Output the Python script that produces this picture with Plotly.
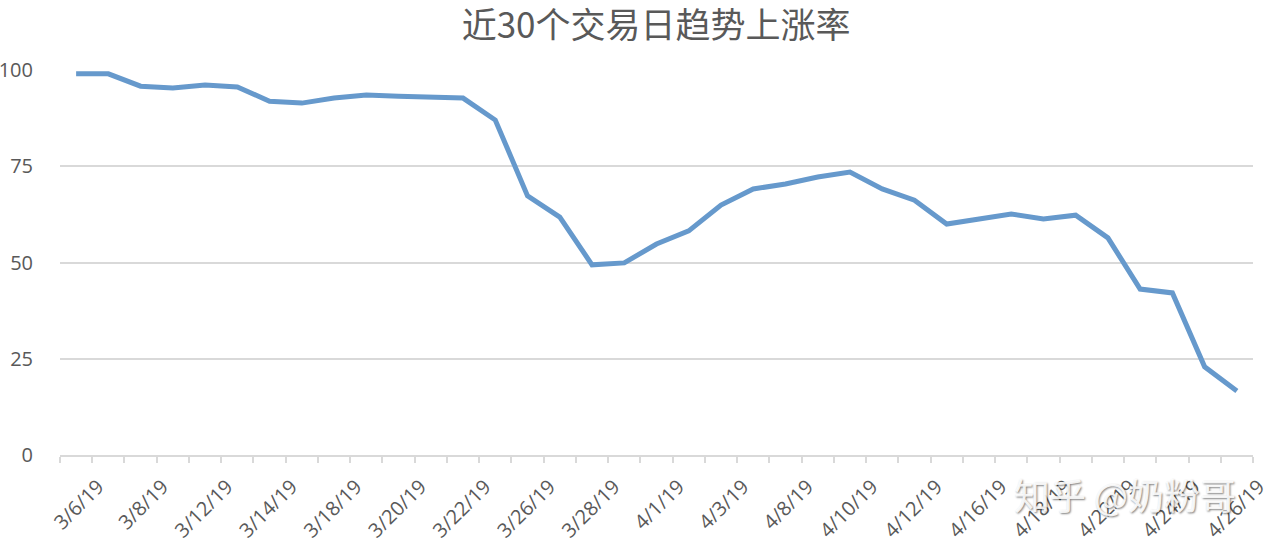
import plotly.graph_objects as go

dates = ["3/6/19", "3/7/19", "3/8/19", "3/11/19", "3/12/19", "3/13/19", "3/14/19", "3/15/19",
         "3/18/19", "3/19/19", "3/20/19", "3/21/19", "3/22/19", "3/25/19", "3/26/19", "3/27/19",
         "3/28/19", "3/29/19", "4/1/19", "4/2/19", "4/3/19", "4/4/19", "4/8/19", "4/9/19",
         "4/10/19", "4/11/19", "4/12/19", "4/15/19", "4/16/19", "4/17/19", "4/18/19", "4/19/19",
         "4/22/19", "4/23/19", "4/24/19", "4/25/19", "4/26/19"]
values = [99.0, 99.0, 95.8, 95.3, 96.1, 95.6, 91.9, 91.4,
          92.7, 93.5, 93.2, 93.1, 92.7, 87.0, 67.3, 61.8,
          49.4, 49.9, 54.8, 58.2, 64.9, 69.1, 70.4, 72.2,
          73.5, 69.1, 66.2, 60.0, 61.3, 62.6, 61.3, 62.3,
          56.4, 43.1, 42.1, 22.9, 16.6]
y_ticks = [0, 25, 50, 75, 100]
title = "近30个交易日趋势上涨率"
watermark = "知乎 @奶粉哥"

idx = list(range(len(dates)))
label_idx = idx[::2]
label_text = [dates[i] for i in label_idx]
boundaries = [i - 0.5 for i in range(len(dates) + 1)]

fig = go.Figure()
fig.add_trace(go.Scatter(
    x=idx, y=values, mode="lines",
    line=dict(color="#6699cc", width=5),
    hoverinfo="skip", showlegend=False,
))

font_family = "Noto Sans CJK SC, Noto Sans, sans-serif"
tick_family = "Open Sans, sans-serif"

fig.update_layout(
    width=1274, height=544,
    margin=dict(l=60, r=21, t=70, b=89),
    paper_bgcolor="white", plot_bgcolor="white",
    title=dict(text=title, x=0.515, xanchor="center", y=0.976, yanchor="top",
               font=dict(family=font_family, size=35, color="#595959")),
    font=dict(family=font_family, color="#595959"),
)
fig.update_xaxes(
    automargin=False,
    range=[-0.5, len(dates) - 0.5],
    tickmode="array", tickvals=label_idx, ticktext=label_text,
    tickangle=-45, ticks="",
    tickfont=dict(size=20, color="#595959", family=tick_family),
    ticklabelshift=22, ticklabelstandoff=10,
    showgrid=False, zeroline=False,
    showline=True, linecolor="#d9d9d9", linewidth=2,
    minor=dict(tickmode="array", tickvals=boundaries, ticks="outside",
               ticklen=6, tickcolor="#d9d9d9", tickwidth=2, showgrid=False),
)
fig.update_yaxes(
    automargin=False,
    range=[0, 100], tickmode="array", tickvals=y_ticks,
    showgrid=True, gridcolor="#d9d9d9", gridwidth=2,
    zeroline=False, showline=False, ticks="",
    ticklabelstandoff=26,
    tickfont=dict(size=20, color="#595959", family=tick_family),
)
fig.add_annotation(
    text=watermark, xref="paper", yref="paper", x=0.893, y=-0.1,
    showarrow=False, xanchor="center", yanchor="middle",
    font=dict(size=36, color="rgba(255,255,255,0.9)", family=font_family,
              shadow="1px 1px 2px rgba(0,0,0,0.55)"),
)
fig.write_html("out.html", config={"displayModeBar": False},
               post_script="document.body.style.margin='0px';")
